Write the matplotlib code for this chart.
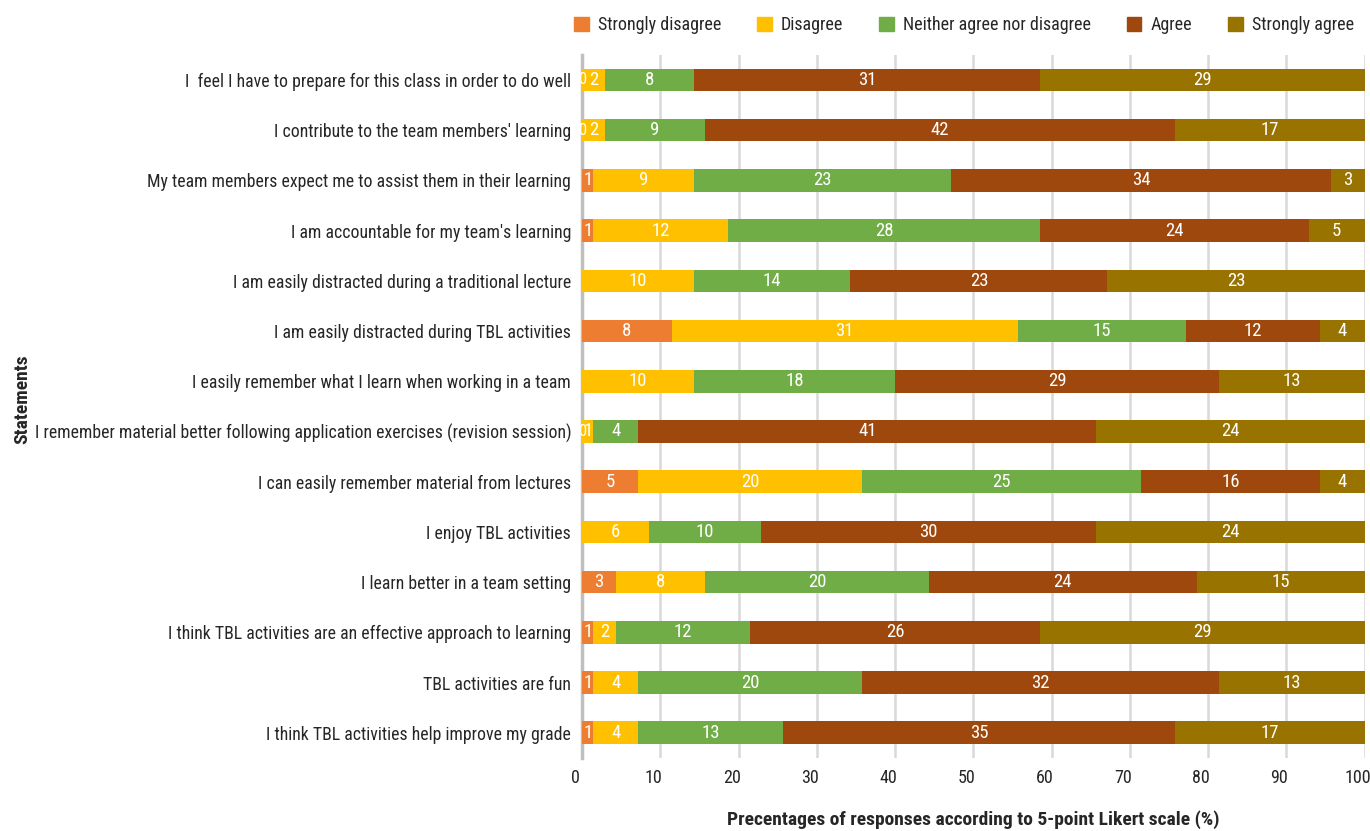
import numpy as np
import matplotlib.pyplot as plt
import matplotlib.transforms as mtransforms
from matplotlib.patches import Patch

statements = [
    "I  feel I have to prepare for this class in order to do well",
    "I contribute to the team members' learning",
    "My team members expect me to assist them in their learning",
    "I am accountable for my team's learning",
    "I am easily distracted during a traditional lecture",
    "I am easily distracted during TBL activities",
    "I easily remember what I learn when working in a team",
    "I remember material better following application exercises (revision session)",
    "I can easily remember material from lectures",
    "I enjoy TBL activities",
    "I learn better in a team setting",
    "I think TBL activities are an effective approach to learning",
    "TBL activities are fun",
    "I think TBL activities help improve my grade",
]
categories = ["Strongly disagree", "Disagree", "Neither agree nor disagree", "Agree", "Strongly agree"]
strongly_disagree = [0, 0, 1, 1, 0, 8, 0, 0, 5, 0, 3, 1, 1, 1]
disagree = [2, 2, 9, 12, 10, 31, 10, 1, 20, 6, 8, 2, 4, 4]
neither = [8, 9, 23, 28, 14, 15, 18, 4, 25, 10, 20, 12, 20, 13]
agree = [31, 42, 34, 24, 23, 12, 29, 41, 16, 30, 24, 26, 32, 35]
strongly_agree = [29, 17, 3, 5, 23, 4, 13, 24, 4, 24, 15, 29, 13, 17]
# rows where the zero count is still printed in the original
zero_labelled = [0, 1, 7]

colors = ["#ED7D31", "#FFC000", "#70AD47", "#9E480E", "#997300"]

plt.rcParams['font.family'] = ['Roboto Condensed', 'DejaVu Sans']

counts = np.array([strongly_disagree, disagree, neither, agree, strongly_agree], dtype=float)
totals = counts.sum(axis=0)
pct = counts / totals * 100

fig = plt.figure(figsize=(13.7, 8.31), dpi=100)
ax = fig.add_axes([0.425, 0.088, 0.571, 0.846])

y = np.arange(len(statements))
left = np.zeros(len(statements))
for k in range(len(categories)):
    ax.barh(y, pct[k], left=left, height=0.45, color=colors[k], zorder=3)
    for i in range(len(statements)):
        c = int(counts[k, i])
        if c > 0 or (k == 0 and i in zero_labelled):
            ax.text(left[i] + pct[k, i] / 2, y[i], str(c), ha='center', va='center',
                    color='white', fontsize=13.5 if c > 0 else 12, zorder=4)
    left += pct[k]

ax.set_ylim(len(statements) - 0.5, -0.5)
ax.set_xlim(0, 100)
ax.set_xticks(np.arange(0, 101, 10))
ax.set_yticks(y)
ax.set_yticklabels(statements, fontsize=12.8, color='#262626')
ax.tick_params(axis='x', labelsize=13, colors='#262626', length=0, pad=8)
ax.tick_params(axis='y', length=0, pad=8)
# tick numbers sit a little left of their gridlines in the original
shift = mtransforms.ScaledTranslation(-7 / 100, 0, fig.dpi_scale_trans)
for lab in ax.get_xticklabels():
    lab.set_transform(lab.get_transform() + shift)
ax.grid(axis='x', color='#d9d9d9', linewidth=1.8, zorder=0)
for s in ['top', 'right', 'bottom']:
    ax.spines[s].set_visible(False)
ax.spines['left'].set_color('#bfbfbf')
ax.spines['left'].set_linewidth(2.5)

ax.set_xlabel("Precentages of responses according to 5-point Likert scale (%)",
              fontsize=14, fontweight='bold', color='#262626', labelpad=17)
fig.text(0.016, 0.52, "Statements", rotation=90, ha='center', va='center',
         fontsize=14, fontweight='bold', color='#262626')

handles = [Patch(color=c) for c in colors]
fig.legend(handles, categories, loc='upper right', bbox_to_anchor=(1.0, 1.0), ncol=5,
           frameon=False, fontsize=13, handlelength=0.8, handleheight=0.8,
           handletextpad=0.5, columnspacing=2.0, labelcolor='#262626')

fig.savefig("out.png", dpi=100)
